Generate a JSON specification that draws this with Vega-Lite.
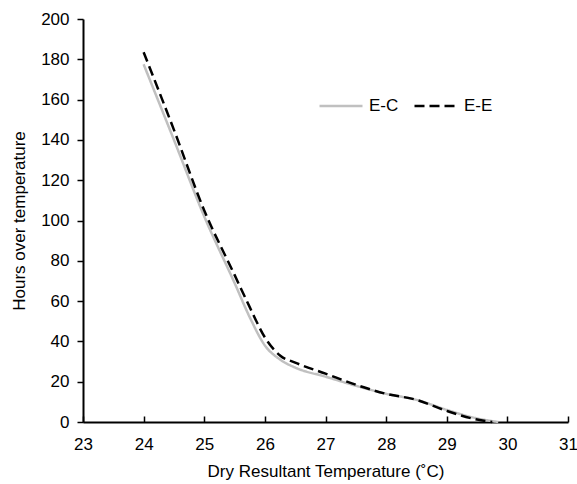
{
  "$schema": "https://vega.github.io/schema/vega-lite/v6.json",
  "width": 485,
  "height": 403,
  "autosize": {"type": "none"},
  "padding": {"left": 83, "top": 19, "right": 9, "bottom": 62},
  "background": "white",
  "config": {
    "view": {"stroke": null},
    "font": "Liberation Sans",
    "axis": {
      "grid": false,
      "domainColor": "#000000",
      "domainWidth": 2,
      "tickColor": "#000000",
      "tickWidth": 1.5,
      "labelColor": "#000000",
      "labelFontSize": 17,
      "labelFont": "Liberation Sans",
      "titleColor": "#000000",
      "titleFontSize": 17,
      "titleFont": "Liberation Sans",
      "titleFontWeight": "normal"
    },
    "legend": {
      "labelFont": "Liberation Sans",
      "labelFontSize": 17,
      "labelColor": "#000000"
    }
  },
  "data": {
    "values": [
      {"s": "E-C", "t": 24, "h": 177.5},
      {"s": "E-C", "t": 24.5, "h": 140},
      {"s": "E-C", "t": 25, "h": 102},
      {"s": "E-C", "t": 25.5, "h": 69},
      {"s": "E-C", "t": 25.75, "h": 52},
      {"s": "E-C", "t": 26, "h": 38},
      {"s": "E-C", "t": 26.25, "h": 31},
      {"s": "E-C", "t": 26.5, "h": 27},
      {"s": "E-C", "t": 27, "h": 22.5},
      {"s": "E-C", "t": 27.5, "h": 18},
      {"s": "E-C", "t": 28, "h": 14},
      {"s": "E-C", "t": 28.5, "h": 11},
      {"s": "E-C", "t": 29, "h": 6},
      {"s": "E-C", "t": 29.5, "h": 1.8},
      {"s": "E-C", "t": 29.85, "h": 0},
      {"s": "E-E", "t": 24, "h": 183.5},
      {"s": "E-E", "t": 24.5, "h": 145},
      {"s": "E-E", "t": 25, "h": 105},
      {"s": "E-E", "t": 25.5, "h": 73},
      {"s": "E-E", "t": 25.75, "h": 57},
      {"s": "E-E", "t": 26, "h": 42},
      {"s": "E-E", "t": 26.25, "h": 33},
      {"s": "E-E", "t": 26.5, "h": 29.5},
      {"s": "E-E", "t": 27, "h": 24},
      {"s": "E-E", "t": 27.5, "h": 18.5},
      {"s": "E-E", "t": 28, "h": 14},
      {"s": "E-E", "t": 28.5, "h": 11},
      {"s": "E-E", "t": 29, "h": 5.5},
      {"s": "E-E", "t": 29.5, "h": 1.2},
      {"s": "E-E", "t": 29.75, "h": 0}
    ]
  },
  "mark": {"type": "line", "interpolate": "monotone", "strokeWidth": 2.5},
  "encoding": {
    "x": {
      "field": "t",
      "type": "quantitative",
      "scale": {"domain": [23, 31], "nice": false, "zero": false},
      "axis": {
        "title": "Dry Resultant Temperature (˚C)",
        "values": [23, 24, 25, 26, 27, 28, 29, 30, 31],
        "tickSize": -6,
        "labelPadding": 20,
        "titlePadding": 11,
        "labelFlush": false
      }
    },
    "y": {
      "field": "h",
      "type": "quantitative",
      "scale": {"domain": [0, 200], "nice": false},
      "axis": {
        "title": "Hours over temperature",
        "values": [0, 20, 40, 60, 80, 100, 120, 140, 160, 180, 200],
        "tickSize": 6,
        "labelPadding": 8,
        "titlePadding": 12
      }
    },
    "color": {
      "field": "s",
      "type": "nominal",
      "scale": {"domain": ["E-C", "E-E"], "range": ["#c0c0c0", "#000000"]},
      "legend": {
        "title": null,
        "orient": "none",
        "legendX": 235,
        "legendY": 64,
        "direction": "horizontal",
        "symbolType": "stroke",
        "symbolSize": 1849,
        "symbolStrokeWidth": 2.5,
        "labelOffset": 5,
        "columnPadding": 10
      }
    },
    "strokeDash": {
      "field": "s",
      "type": "nominal",
      "scale": {"domain": ["E-C", "E-E"], "range": [[1, 0], [10, 5]]},
      "legend": {
        "title": null,
        "orient": "none",
        "legendX": 235,
        "legendY": 64,
        "direction": "horizontal",
        "symbolType": "stroke",
        "symbolSize": 1849,
        "symbolStrokeWidth": 2.5,
        "labelOffset": 5,
        "columnPadding": 10
      }
    }
  }
}
